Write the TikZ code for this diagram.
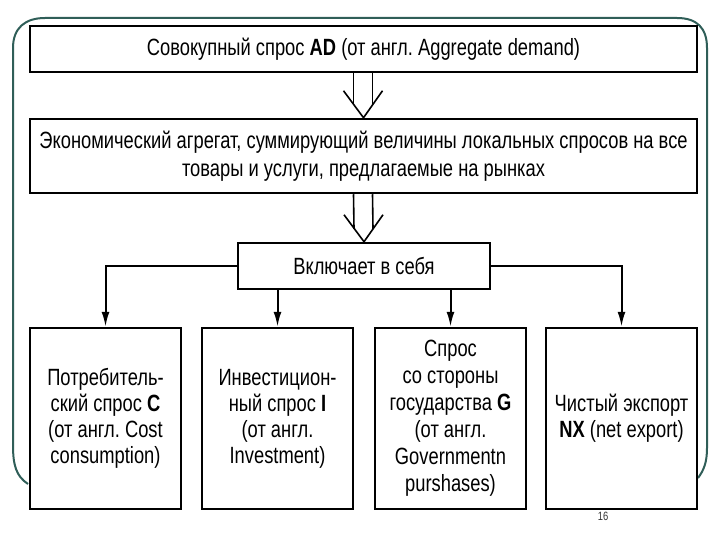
\documentclass[tikz,border=0pt]{standalone}
\usepackage{fontspec}
\setmainfont{Liberation Sans}[FakeStretch=0.78]
\usetikzlibrary{calc,arrows.meta,positioning}
\definecolor{slide}{HTML}{2F5E58}
\frenchspacing
\tikzset{blk/.style={draw=black,line width=2.5pt,fill=white,align=center,inner sep=0pt,font=\fontsize{23.5}{26}\selectfont},
  branch/.style={line width=2pt,-{Latex[length=15pt,width=8pt]}},
  hollow/.style={line width=1.6pt},
  frame/.style={draw=slide,line width=2pt}}

\begin{document}
\begin{tikzpicture}[x=1pt,y=-1pt]
\useasboundingbox (0,0) rectangle (720,540);

% Slide frame
\draw[frame] (28,484) .. controls (16,476) and (13,465) .. (13,445) -- (13,48)
  .. controls (13,28) and (25,18) .. (45,18) -- (677,18)
  .. controls (697,18) and (707,28) .. (707,48) -- (707,448)
  .. controls (707,462) and (704,470) .. (698,478);

% Nodes
\node[blk,minimum width=667,minimum height=46] (ad) at (363.5,49)
  {Совокупный спрос \textbf{AD} (от англ. Aggregate demand)};
\node[blk,minimum width=667,minimum height=74,font=\fontsize{23.5}{28}\selectfont] (agg) at (363.5,156)
  {Экономический агрегат, суммирующий величины локальных спросов на все\\
   товары и услуги, предлагаемые на рынках};
\node[blk,minimum width=252,minimum height=46] (incl) at (364,266) {Включает в себя};

\node[blk,minimum width=151,minimum height=181] (cons) at (105.5,418.5)
  {Потребитель-\\ский спрос \textbf{C}\\(от англ. Cost\\consumption)};
\node[blk,minimum width=151,minimum height=181] (inv) at (277.5,418.5)
  {Инвестицион-\\ный спрос \textbf{I}\\(от англ.\\Investment)};
\node[blk,minimum width=151,minimum height=181,font=\fontsize{23.5}{27}\selectfont] (gov) at (450.5,418.5)
  {Спрос\\со стороны\\государства \textbf{G}\\(от англ.\\Governmentn\\purshases)};
\node[blk,minimum width=151,minimum height=181] (nx) at (621.5,418.5)
  {Чистый экспорт\\\textbf{NX} (net export)};

\node[text=black!80,font=\fontsize{12}{14}\selectfont] (page) at (603,516) {16};

% Hollow arrows
\draw[hollow] ($(ad.south)+(-10,0)$) -- ($(agg.north)+(-10,-13)$);
\draw[hollow] ($(ad.south)+(9,0)$) -- ($(agg.north)+(9,-13)$);
\draw[hollow] ($(agg.north)+(-20,-27)$) -- (agg.north) -- ($(agg.north)+(19,-27)$);

\draw[hollow] ($(agg.south)+(-10,0)$) -- ($(incl.north)+(-10,-13)$);
\draw[hollow] ($(agg.south)+(9,0)$) -- ($(incl.north)+(9,-13)$);
\draw[hollow] ($(incl.north)+(-20,-27)$) -- (incl.north) -- ($(incl.north)+(19,-27)$);

% Branches
\draw[branch] (incl.west) -| (cons.north);
\draw[branch] (incl.south -| inv.north) -- (inv.north);
\draw[branch] (incl.south -| gov.north) -- (gov.north);
\draw[branch] (incl.east) -| (nx.north);

\end{tikzpicture}
\end{document}
